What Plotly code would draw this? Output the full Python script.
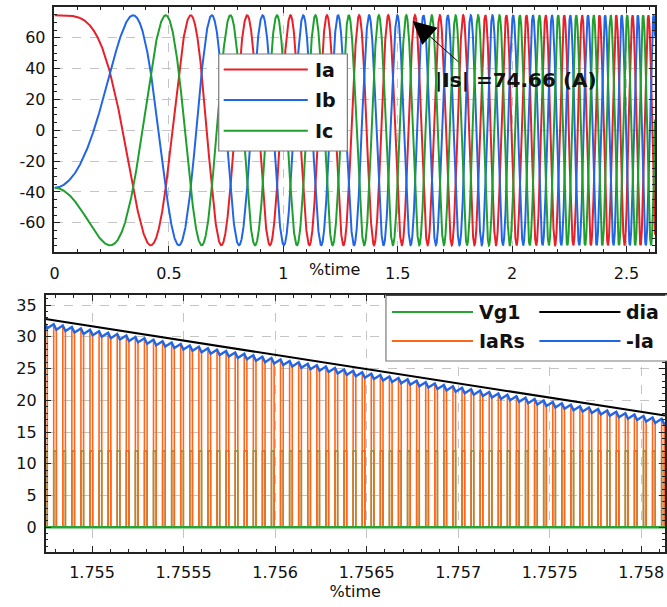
import numpy as np
import plotly.graph_objects as go

W, H = 667, 607

# ---------------- top panel: three-phase stator currents ----------------
PHASE_NAMES = ["Ia", "Ib", "Ic"]
PHASE_COLORS = ["#e8202a", "#2266e6", "#1fa02e"]
PHASE_SHIFT_DEG = [0, -120, 120]
IS_AMP = 74.66            # |Is| peak (A)
CHIRP_RATE = 5.64         # supply frequency ramps as f = CHIRP_RATE * t
T_END = 2.625
TOP_XTICKS = [0, 0.5, 1, 1.5, 2, 2.5]
TOP_XLABELS = ["0", "0.5", "1", "1.5", "2", "2.5"]
TOP_YTICKS = [-60, -40, -20, 0, 20, 40, 60]
TOP_YLABELS = ["-60", "-40", "-20", "0", "20", "40", "60"]
TOP_YRANGE = [-79, 80]
ARROW_TIP = (1.5657, 70.9)

# ---------------- bottom panel: PWM detail ----------------
BOT_XRANGE = [1.754746, 1.75813]
BOT_XTICKS = [1.755, 1.7555, 1.756, 1.7565, 1.757, 1.7575, 1.758]
BOT_XLABELS = ["1.755", "1.7555", "1.756", "1.7565", "1.757", "1.7575", "1.758"]
BOT_YTICKS = [0, 5, 10, 15, 20, 25, 30, 35]
BOT_YLABELS = ["0", "5", "10", "15", "20", "25", "30", "35"]
BOT_YRANGE = [-3.9, 36.6]
DIA_T = [1.754746, 1.75813]
DIA_V = [32.8, 17.6]
IA_OFFSET = 1.0           # -Ia sits this far below dia
RIPPLE_PP = 0.8           # switching ripple on -Ia
PWM_FIRST_ON = 1.754840
PWM_PERIOD = 4.957e-5
PWM_ON = 1.45e-5
VG1_HIGH = 12.0
BOT_NAMES = ["Vg1", "dia", "IaRs", "-Ia"]
BOT_COLORS = ["#25a532", "#000000", "#ff661a", "#2266e6"]

# ---------------- layout geometry (pixels) ----------------
TOP_BOX = (50, 7, 657, 252)      # left, top, right, bottom
BOT_BOX = (41, 295, 667, 552)


def px(x):
    return x / W


def py(y):
    return 1 - y / H


fig = go.Figure()

# top traces
t = np.linspace(0, T_END, 9000)
theta = np.pi * CHIRP_RATE * t ** 2
for name, col, sh in zip(PHASE_NAMES, PHASE_COLORS, PHASE_SHIFT_DEG):
    fig.add_trace(go.Scatter(x=t, y=IS_AMP * np.cos(theta + np.deg2rad(sh)),
                             mode="lines", name=name, line=dict(color=col, width=2),
                             xaxis="x", yaxis="y", showlegend=False))

# bottom traces
slope = (DIA_V[1] - DIA_V[0]) / (DIA_T[1] - DIA_T[0])


def dia(tt):
    return DIA_V[0] + slope * (np.asarray(tt) - DIA_T[0])


k_min = int(np.floor((BOT_XRANGE[0] - PWM_FIRST_ON) / PWM_PERIOD)) - 1
k_max = int(np.ceil((BOT_XRANGE[1] - PWM_FIRST_ON) / PWM_PERIOD)) + 1
ons = [PWM_FIRST_ON + k * PWM_PERIOD for k in range(k_min, k_max + 1)]

vg_x, vg_y = [BOT_XRANGE[0] - 1e-4], [0.0]
ia_x, ia_y = [], []
rs_x, rs_y = [], []
for ton in ons:
    toff = ton + PWM_ON
    hi = dia(ton) - IA_OFFSET + RIPPLE_PP / 2
    lo = dia(toff) - IA_OFFSET - RIPPLE_PP / 2
    vg_x += [ton, ton, toff, toff]
    vg_y += [0, VG1_HIGH, VG1_HIGH, 0]
    rs_x += [ton, ton, toff, toff, None]
    rs_y += [0, hi, lo, 0, None]
    ia_x += [ton, toff]
    ia_y += [hi, lo]
vg_x.append(BOT_XRANGE[1] + 1e-4)
vg_y.append(0.0)

fig.add_trace(go.Scatter(x=vg_x, y=vg_y, mode="lines", name=BOT_NAMES[0],
                         line=dict(color=BOT_COLORS[0], width=1.5),
                         xaxis="x2", yaxis="y2", showlegend=False))
fig.add_trace(go.Scatter(x=rs_x, y=rs_y, mode="lines", name=BOT_NAMES[2],
                         line=dict(color=BOT_COLORS[2], width=1.6),
                         xaxis="x2", yaxis="y2", showlegend=False, connectgaps=False))
fig.add_trace(go.Scatter(x=[BOT_XRANGE[0] - 1e-4, BOT_XRANGE[1] + 1e-4], y=[0, 0],
                         mode="lines", name=BOT_NAMES[0] + " low",
                         line=dict(color=BOT_COLORS[0], width=2.6),
                         xaxis="x2", yaxis="y2", showlegend=False, hoverinfo="skip"))
fig.add_trace(go.Scatter(x=DIA_T, y=DIA_V, mode="lines", name=BOT_NAMES[1],
                         line=dict(color=BOT_COLORS[1], width=2),
                         xaxis="x2", yaxis="y2", showlegend=False))
fig.add_trace(go.Scatter(x=ia_x, y=ia_y, mode="lines", name=BOT_NAMES[3],
                         line=dict(color=BOT_COLORS[3], width=2.4),
                         xaxis="x2", yaxis="y2", showlegend=False))

tickfont = dict(family="DejaVu Sans", size=16, color="#111")
common = dict(showline=True, linecolor="#222", linewidth=1.5, mirror="ticks",
              ticks="inside", ticklen=6, tickcolor="#222", tickwidth=1,
              showgrid=True, gridcolor="#c4c4c4", griddash="dash", gridwidth=1,
              zeroline=False, tickfont=tickfont, tickmode="array")

fig.update_layout(
    width=W, height=H, margin=dict(l=0, r=0, t=0, b=0),
    paper_bgcolor="white", plot_bgcolor="white", showlegend=False,
    xaxis=dict(domain=[px(TOP_BOX[0]), px(TOP_BOX[2])], range=[0, T_END], anchor="y",
               tickvals=TOP_XTICKS, ticktext=TOP_XLABELS, ticklabelstandoff=6,
               minor=dict(tickmode="linear", tick0=0, dtick=0.1, ticks="inside", ticklen=3,
                          tickcolor="#222", showgrid=False), **common),
    yaxis=dict(domain=[py(TOP_BOX[3]), py(TOP_BOX[1])], range=TOP_YRANGE, anchor="x",
               tickvals=TOP_YTICKS, ticktext=TOP_YLABELS, ticklabelstandoff=4,
               minor=dict(tickmode="linear", tick0=0, dtick=5, ticks="inside", ticklen=3,
                          tickcolor="#222", showgrid=False), **common),
    xaxis2=dict(domain=[px(BOT_BOX[0]), px(BOT_BOX[2])], range=BOT_XRANGE, anchor="y2",
                tickvals=BOT_XTICKS, ticktext=BOT_XLABELS, ticklabelstandoff=5,
                title=dict(text="%time", font=dict(family="DejaVu Sans", size=16, color="#111"),
                           standoff=5),
                minor=dict(tickmode="linear", tick0=1.755, dtick=0.0001, ticks="inside",
                           ticklen=3, tickcolor="#222", showgrid=False), **common),
    yaxis2=dict(domain=[py(BOT_BOX[3]), py(BOT_BOX[1])], range=BOT_YRANGE, anchor="x2",
                tickvals=BOT_YTICKS, ticktext=BOT_YLABELS, ticklabelstandoff=4,
                minor=dict(tickmode="linear", tick0=0, dtick=1, ticks="inside", ticklen=3,
                           tickcolor="#222", showgrid=False), **common),
)

shapes = []
annotations = []

# top "%time" label in the tick row
annotations.append(dict(x=px(333), y=py(270), xref="paper", yref="paper", text="%time",
                        showarrow=False, font=dict(family="DejaVu Sans", size=16, color="#111"),
                        xanchor="center", yanchor="middle"))
# |Is| annotation
annotations.append(dict(x=px(516), y=py(80), xref="paper", yref="paper",
                        text="|Is| =74.66 (A)", showarrow=False,
                        font=dict(family="DejaVu Sans", size=20, color="#111", weight="bold"),
                        xanchor="center", yanchor="middle"))
annotations.append(dict(x=ARROW_TIP[0], y=ARROW_TIP[1], xref="x", yref="y", text="",
                        showarrow=True, ax=47, ay=42, arrowhead=2, arrowsize=4.6,
                        arrowwidth=1, arrowcolor="#000"))

legfont = dict(family="DejaVu Sans", size=19, color="#111", weight="bold")

# top legend
shapes.append(dict(type="rect", xref="paper", yref="paper", x0=px(216), x1=px(346),
                   y0=py(151), y1=py(54), fillcolor="white",
                   line=dict(color="#7a7a7a", width=1.2), layer="above"))
for i, (name, col) in enumerate(zip(PHASE_NAMES, PHASE_COLORS)):
    yy = 69.5 + i * 30.6
    shapes.append(dict(type="line", xref="paper", yref="paper", x0=px(221), x1=px(306),
                       y0=py(yy), y1=py(yy), line=dict(color=col, width=2), layer="above"))
    annotations.append(dict(x=px(311), y=py(yy), xref="paper", yref="paper", text=name,
                            showarrow=False, font=legfont, xanchor="left", yanchor="middle"))

# bottom legend (two columns)
shapes.append(dict(type="rect", xref="paper", yref="paper", x0=px(385), x1=px(680),
                   y0=py(361), y1=py(295), fillcolor="white",
                   line=dict(color="#7a7a7a", width=1.2), layer="above"))
leg_pos = {"Vg1": (391, 312), "dia": (540, 312), "IaRs": (391, 341), "-Ia": (540, 341)}
for name, col in zip(BOT_NAMES, BOT_COLORS):
    x0, yy = leg_pos[name]
    shapes.append(dict(type="line", xref="paper", yref="paper", x0=px(x0), x1=px(x0 + 82),
                       y0=py(yy), y1=py(yy), line=dict(color=col, width=2), layer="above"))
    annotations.append(dict(x=px(x0 + 86), y=py(yy), xref="paper", yref="paper", text=name,
                            showarrow=False, font=legfont, xanchor="left", yanchor="middle"))

# redraw top frame edge of bottom plot over legend
shapes.append(dict(type="line", xref="paper", yref="paper", x0=px(385), x1=1,
                   y0=py(295), y1=py(295), line=dict(color="#222", width=1.5), layer="above"))

fig.update_layout(shapes=shapes, annotations=annotations)
fig.write_html("out.html")
